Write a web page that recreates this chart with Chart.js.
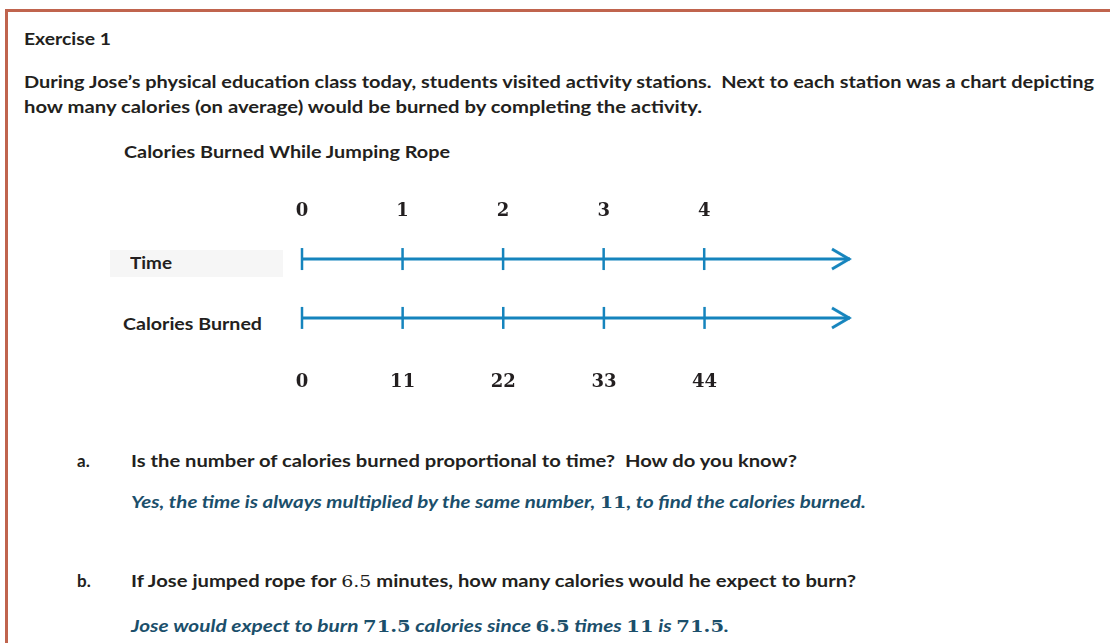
<!DOCTYPE html>
<html>
<head>
<meta charset="utf-8">
<script src="https://cdn.jsdelivr.net/npm/chart.js@4.4.1/dist/chart.umd.min.js"></script>
<style>
  html, body { margin: 0; padding: 0; background: #fff; }
  body { width: 1110px; height: 643px; position: relative; overflow: hidden;
    font-family: Lato, "Open Sans", sans-serif; font-weight: bold; color: #231f20; }
  .frame { position: absolute; left: 5px; top: 9px; width: 1200px; height: 700px;
    border: 3px solid #c0644e; box-sizing: border-box; }
  .t { position: absolute; white-space: nowrap; line-height: 20px; font-size: 17px; transform-origin: 0 50%; }
  .ans { color: #1b4f6b; font-style: italic; }
  .m { font-family: "DejaVu Serif", serif; font-style: normal; font-size: 16px; }
  .timebox { position: absolute; left: 110px; top: 250px; width: 173px; height: 27px; background: #f6f6f6; }
  #wrap { position: absolute; left: 100px; top: 190px; width: 800px; height: 218px; }
</style>
</head>
<body>
<div class="frame"></div>

<div class="t fit" data-w="87" style="left:24px; top:29px">Exercise 1</div>
<div class="t fit" data-w="1070" style="left:24px; top:72px">During Jose’s physical education class today, students visited activity stations.&nbsp; Next to each station was a chart depicting</div>
<div class="t fit" data-w="678" style="left:24px; top:97px">how many calories (on average) would be burned by completing the activity.</div>
<div class="t fit" data-w="326" style="left:124px; top:142px">Calories Burned While Jumping Rope</div>

<div class="timebox"></div>
<div class="t fit" data-w="42" style="left:130px; top:253px">Time</div>
<div class="t fit" data-w="139" style="left:123px; top:314px">Calories Burned</div>

<div id="wrap"><canvas id="numberLines"></canvas></div>

<div class="t" style="left:77px; top:451px">a.</div>
<div class="t fit" data-w="666" style="left:131px; top:451px">Is the number of calories burned proportional to time?&nbsp; How do you know?</div>
<div class="t ans fit" data-w="735" style="left:131px; top:492px">Yes, the time is always multiplied by the same number, <span class="m">11</span>, to find the calories burned.</div>

<div class="t" style="left:77px; top:571px">b.</div>
<div class="t fit" data-w="725" style="left:131px; top:571px">If Jose jumped rope for <span class="m" style="font-weight:normal">6.5</span> minutes, how many calories would he expect to burn?</div>
<div class="t ans fit" data-w="598" style="left:131px; top:616px">Jose would expect to burn <span class="m">71.5</span> calories since <span class="m">6.5</span> times <span class="m">11</span> is <span class="m">71.5</span>.</div>

<script>
  const timeValues = [0, 1, 2, 3, 4];
  const calorieValues = [0, 11, 22, 33, 44];
  const timeAxisEnd = 5.45;
  const calorieAxisEnd = 59.9;

  const blue = "#1584bd";
  const ink = "#231f20";
  const timeRow = 0.75;
  const calorieRow = 0.31;

  // petite flèche ouverte ">" dont la pointe est au centre de l'image
  function chevron() {
    const c = document.createElement("canvas");
    c.width = 40; c.height = 26;
    const g = c.getContext("2d");
    g.strokeStyle = blue; g.lineWidth = 3; g.lineJoin = "miter"; g.lineCap = "butt";
    g.beginPath(); g.moveTo(2, 3); g.lineTo(19, 13); g.lineTo(2, 23); g.stroke();
    return c;
  }
  const arrow = chevron();

  function axisLine(axisId, end, row) {
    return {
      type: "line", xAxisID: axisId, clip: false,
      data: [{ x: 0, y: row }, { x: end, y: row }],
      borderColor: blue, borderWidth: 3,
      pointRadius: [0, 10], pointStyle: arrow, pointHoverRadius: 0,
    };
  }

  function tickMarks(axisId, values, row) {
    return {
      type: "line", xAxisID: axisId, showLine: false, clip: false,
      data: values.map((v) => ({ x: v, y: row })),
      pointStyle: "line", rotation: 90, pointRadius: 11,
      borderColor: blue, borderWidth: 2.5,
    };
  }

  function axis(position, end, values, pad) {
    return {
      type: "linear", position, min: 0, max: end,
      grid: { display: false, drawTicks: false }, border: { display: false },
      afterBuildTicks: (s) => { s.ticks = values.map((v) => ({ value: v })); },
      ticks: { color: ink, padding: pad, maxRotation: 0, autoSkip: false,
        font: { family: "DejaVu Serif", weight: "bold", size: 18 } },
    };
  }

  new Chart(document.getElementById("numberLines"), {
    type: "line",
    data: {
      datasets: [
        tickMarks("x", timeValues, timeRow),
        tickMarks("x2", calorieValues, calorieRow),
        axisLine("x", timeAxisEnd, timeRow),
        axisLine("x2", calorieAxisEnd, calorieRow),
      ],
    },
    options: {
      responsive: true, maintainAspectRatio: false, animation: false,
      layout: { padding: { left: 202, right: 50, top: 8, bottom: 3 } },
      plugins: { legend: { display: false }, tooltip: { enabled: false } },
      scales: {
        x: axis("top", timeAxisEnd, timeValues, 3),
        x2: axis("bottom", calorieAxisEnd, calorieValues, 12),
        y: { type: "linear", display: false, min: 0, max: 1 },
      },
    },
  });

  // comprime chaque ligne à la largeur mesurée sur l'original (police plus large que Calibri)
  function fitText() {
    document.querySelectorAll(".fit").forEach((el) => {
      const target = +el.dataset.w;
      const w = el.getBoundingClientRect().width;
      if (w > 0) el.style.transform = "scaleX(" + (target / w).toFixed(4) + ")";
    });
  }
  fitText();
</script>
</body>
</html>
